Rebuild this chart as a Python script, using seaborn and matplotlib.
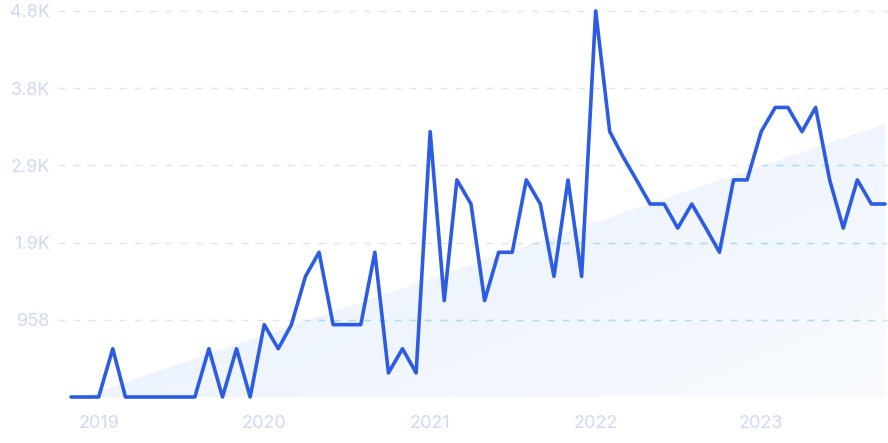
import numpy as np
import pandas as pd
import seaborn as sns
import matplotlib
matplotlib.use('Agg')
from matplotlib import pyplot as plt
from matplotlib.colors import to_rgb
from matplotlib.transforms import blended_transform_factory

# monthly values, Nov 2018 .. Oct 2023
START_MONTH = '2018-11-01'
VALUES = [0, 0, 0, 599, 0, 0, 0, 0, 0, 0,
          599, 0, 599, 0, 898, 599, 898, 1497, 1796, 898,
          898, 898, 1796, 299, 599, 299, 3293, 1197, 2694, 2395,
          1197, 1796, 1796, 2694, 2395, 1497, 2694, 1497, 4790, 3293,
          2994, 2694, 2395, 2395, 2096, 2395, 2096, 1796, 2694, 2694,
          3293, 3593, 3593, 3293, 3593, 2694, 2096, 2694, 2395, 2395]
Y_TICKS = [0, 958, 1916, 2874, 3832, 4790]
Y_LABELS = ['', '958', '1.9K', '2.9K', '3.8K', '4.8K']
X_TICK_YEARS = [2019, 2020, 2021, 2022, 2023]

LINE_COLOR = '#2c5ce3'
TEXT_COLOR = '#d0d9f3'
GRID_COLOR = '#dde5f6'
GRID_IN_FILL = '#a6ddfb'


def main():
    sns.set_style('white')
    plt.rcParams['font.family'] = ['Inter', 'DejaVu Sans']

    df = pd.DataFrame({
        'date': pd.date_range(START_MONTH, periods=len(VALUES), freq='MS'),
        'value': VALUES,
    })

    fig = plt.figure(figsize=(8.88, 4.43), dpi=100)
    ax = fig.add_axes([0.080, 0.1038, 0.9166, 0.8714])

    # trend area (linear fit of the series)
    idx = np.arange(len(df))
    slope, intercept = np.polyfit(idx, df['value'], 1)
    trend = np.clip(slope * idx + intercept, 0, None)
    poly = ax.fill_between(df['date'], 0, trend, color='none', lw=0, zorder=1)
    clip = poly.get_paths()[0]

    # diagonal gradient inside trend area
    h, w = 200, 400
    u = np.linspace(0, 1, w)[None, :]
    v = np.linspace(0, 1, h)[:, None]
    t = np.clip(0.45 * u + 0.5 * v, 0, 1)
    c0 = np.array(to_rgb('#e2ecfc'))
    c1 = np.array(to_rgb('#fafcff'))
    img = c0[None, None, :] * (1 - t[..., None]) + c1[None, None, :] * t[..., None]
    im = ax.imshow(img, extent=[0, 1, 0, 1], transform=ax.transAxes,
                   aspect='auto', zorder=1, interpolation='bilinear')
    im.set_clip_path(clip, transform=ax.transData)

    ax.set_xlim(df['date'].iloc[0], df['date'].iloc[-1])
    ax.set_ylim(0, Y_TICKS[-1])

    # dashed grid, also extending left of the axes
    tr = blended_transform_factory(ax.transAxes, ax.transData)
    for yv in Y_TICKS[1:]:
        ax.plot([-0.016, 1.01], [yv, yv], transform=tr, color=GRID_COLOR,
                lw=1, dashes=(5, 6), clip_on=False, zorder=2)
        ln = ax.plot([-0.016, 1.01], [yv, yv], transform=tr, color=GRID_IN_FILL,
                     lw=1, dashes=(5, 6), zorder=2)[0]
        ln.set_clip_path(clip, transform=ax.transData)
        ln.set_clip_on(True)

    sns.lineplot(data=df, x='date', y='value', color=LINE_COLOR, lw=2.6,
                 ax=ax, zorder=3, clip_on=False)

    ax.set_yticks(Y_TICKS[1:])
    ax.set_yticklabels(Y_LABELS[1:])
    ax.set_xticks([pd.Timestamp(f'{y}-01-01') for y in X_TICK_YEARS])
    ax.set_xticklabels([str(y) for y in X_TICK_YEARS])
    ax.tick_params(axis='both', length=0, labelsize=13, colors=TEXT_COLOR)
    ax.tick_params(axis='y', pad=15)
    ax.tick_params(axis='x', pad=13)
    ax.set_xlabel('')
    ax.set_ylabel('')
    sns.despine(ax=ax, left=True, bottom=True)

    fig.savefig('out.png', dpi=100)


if __name__ == '__main__':
    main()
